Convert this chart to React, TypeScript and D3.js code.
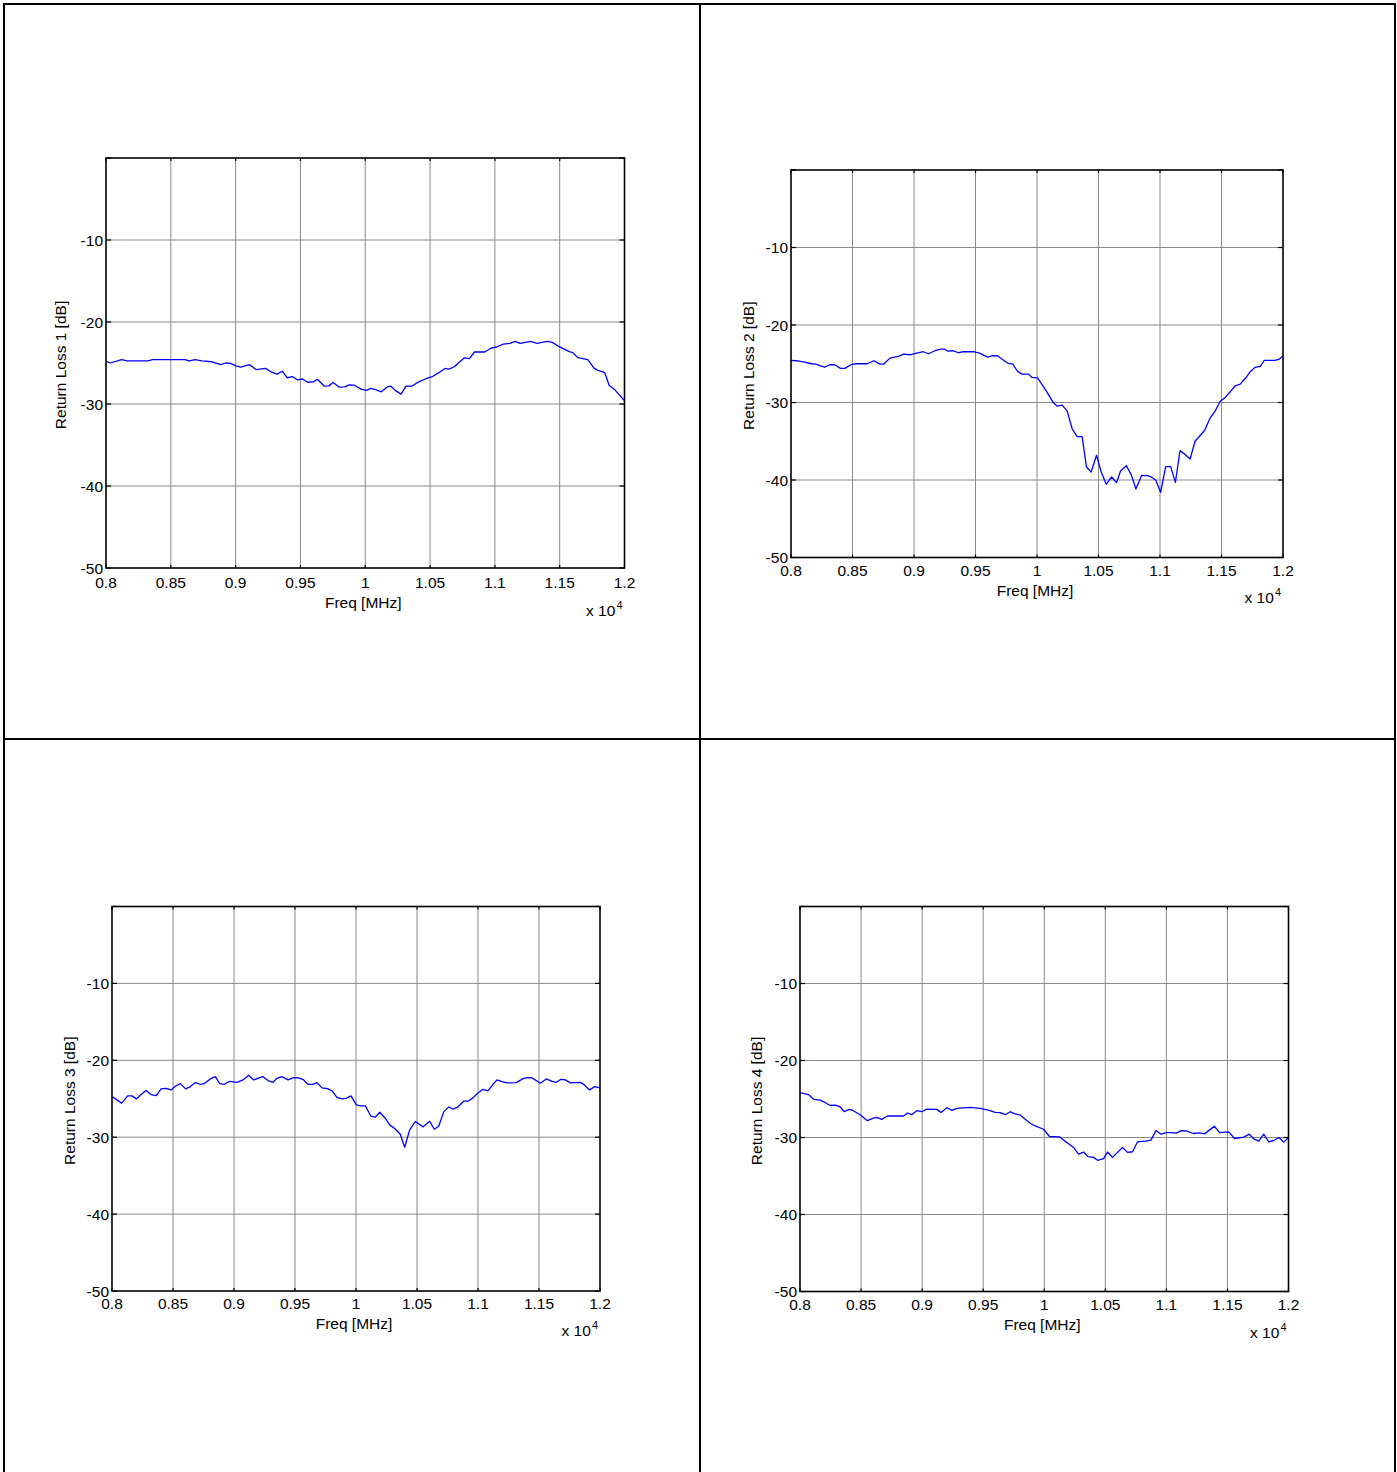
import React from "react";
import * as d3 from "d3";

// ---------- data ----------
const xTicks = [8000, 8500, 9000, 9500, 10000, 10500, 11000, 11500, 12000];
const xTickLabels = ["0.8", "0.85", "0.9", "0.95", "1", "1.05", "1.1", "1.15", "1.2"];
const yTicks = [0, -10, -20, -30, -40, -50];
const yTickLabels = ["", "-10", "-20", "-30", "-40", "-50"];
const yLabels = ["Return Loss 1 [dB]", "Return Loss 2 [dB]", "Return Loss 3 [dB]", "Return Loss 4 [dB]"];

const freq1 = [8000,8035,8119,8166,8322,8361,8610,8641,8688,8740,8818,8884,8923,8962,9001,9040,9106,9158,9231,9276,9320,9359,9398,9440,9479,9516,9555,9597,9631,9685,9719,9753,9800,9842,9876,9915,9968,10007,10046,10085,10124,10171,10198,10229,10276,10315,10359,10412,10464,10516,10568,10615,10647,10686,10725,10764,10803,10843,10921,10973,11012,11065,11117,11156,11195,11274,11326,11404,11443,11496,11574,11600,11639,11717,11764,11796,11848,11882,11926,12000];
const loss1 = [-24.8,-25.0,-24.6,-24.75,-24.75,-24.6,-24.6,-24.75,-24.6,-24.75,-24.85,-25.2,-25.0,-25.05,-25.35,-25.5,-25.2,-25.8,-25.65,-26.1,-26.35,-26.0,-26.8,-26.67,-27.07,-26.95,-27.35,-27.31,-26.99,-27.83,-27.79,-27.39,-27.95,-27.91,-27.67,-27.71,-28.19,-28.35,-28.1,-28.27,-28.51,-27.91,-27.83,-28.31,-28.8,-27.83,-27.83,-27.3,-26.95,-26.67,-26.18,-25.66,-25.74,-25.46,-24.9,-24.38,-24.46,-23.66,-23.66,-23.17,-23.05,-22.69,-22.61,-22.37,-22.61,-22.37,-22.61,-22.37,-22.49,-23.01,-23.61,-23.73,-24.34,-24.58,-25.62,-25.9,-26.18,-27.75,-28.27,-29.6];

const freq2 = [8000,8043,8111,8166,8201,8247,8274,8315,8356,8402,8438,8492,8533,8620,8674,8723,8755,8804,8872,8918,8967,9022,9076,9117,9171,9217,9245,9272,9315,9361,9402,9484,9538,9598,9633,9679,9723,9761,9804,9842,9878,9932,9959,10005,10081,10130,10163,10204,10245,10285,10326,10367,10402,10440,10484,10522,10563,10606,10647,10679,10726,10766,10804,10851,10897,10929,10965,11005,11046,11087,11125,11163,11204,11245,11285,11321,11364,11405,11448,11489,11527,11571,11611,11652,11698,11734,11772,11815,11848,11891,11935,11970,12000];
const loss2 = [-24.57,-24.61,-24.78,-25.0,-25.04,-25.3,-25.43,-25.13,-25.13,-25.6,-25.6,-25.09,-25.0,-25.0,-24.61,-25.04,-25.04,-24.27,-24.05,-23.75,-23.84,-23.62,-23.45,-23.71,-23.32,-23.1,-23.1,-23.36,-23.32,-23.58,-23.45,-23.45,-23.66,-24.14,-23.97,-23.97,-24.48,-24.91,-25.04,-25.99,-26.34,-26.34,-26.77,-26.81,-28.66,-29.96,-30.47,-30.34,-31.08,-33.36,-34.4,-34.4,-38.32,-38.97,-36.81,-38.97,-40.56,-39.61,-40.34,-38.84,-38.15,-39.31,-41.16,-39.4,-39.44,-39.61,-40.0,-41.59,-38.28,-38.28,-40.3,-36.21,-36.72,-37.28,-35.0,-34.35,-33.58,-32.07,-31.12,-29.83,-29.4,-28.62,-27.84,-27.63,-26.81,-26.03,-25.47,-25.34,-24.57,-24.57,-24.57,-24.4,-24.01];

const freq3 = [8000,8041,8079,8128,8164,8199,8238,8279,8320,8363,8402,8443,8484,8519,8560,8604,8642,8683,8724,8757,8806,8847,8883,8921,8964,9025,9074,9120,9161,9235,9279,9320,9352,9393,9443,9489,9530,9571,9604,9645,9680,9721,9768,9803,9844,9885,9918,9959,10003,10035,10076,10123,10158,10194,10240,10276,10317,10363,10399,10440,10486,10549,10604,10642,10678,10719,10760,10795,10833,10882,10918,10959,10997,11041,11082,11123,11156,11197,11238,11314,11369,11402,11443,11511,11560,11607,11642,11680,11716,11757,11839,11872,11915,11956,12000];
const loss3 = [-24.72,-25.15,-25.58,-24.63,-24.63,-25.02,-24.46,-23.94,-24.46,-24.59,-23.72,-23.64,-23.85,-23.38,-23.03,-23.72,-23.42,-22.9,-23.12,-23.03,-22.42,-22.12,-23.03,-23.12,-22.73,-22.86,-22.55,-21.95,-22.55,-22.12,-22.64,-22.86,-22.34,-22.12,-22.55,-22.25,-22.29,-22.55,-23.12,-23.12,-22.9,-23.59,-23.68,-23.98,-24.81,-25.02,-24.94,-24.63,-25.8,-25.93,-25.93,-27.27,-27.4,-26.75,-27.53,-28.4,-28.87,-29.61,-31.3,-29.05,-27.97,-28.66,-27.92,-28.96,-28.57,-26.71,-26.06,-26.36,-26.1,-25.32,-25.32,-24.89,-24.29,-23.77,-23.98,-23.12,-22.55,-22.77,-22.94,-22.9,-22.38,-22.25,-22.29,-22.99,-22.42,-22.73,-22.86,-22.47,-22.55,-22.94,-22.86,-23.2,-23.85,-23.42,-23.59];

const freq4 = [8000,8068,8115,8164,8205,8246,8292,8328,8361,8404,8437,8492,8552,8595,8628,8669,8716,8847,8880,8915,8956,8997,9038,9120,9155,9202,9243,9284,9393,9475,9543,9598,9639,9680,9721,9754,9803,9844,9885,9926,9994,10043,10125,10158,10199,10240,10281,10322,10357,10404,10437,10486,10518,10559,10600,10641,10682,10723,10764,10827,10874,10915,10956,10999,11040,11081,11122,11163,11223,11270,11313,11354,11393,11436,11510,11559,11633,11679,11715,11756,11797,11838,11879,11922,11961,12000];
const loss4 = [-24.16,-24.42,-25.06,-25.15,-25.45,-25.84,-25.79,-26.01,-26.65,-26.35,-26.52,-27.04,-27.81,-27.51,-27.38,-27.64,-27.21,-27.21,-26.82,-27.04,-26.52,-26.65,-26.31,-26.35,-26.74,-26.14,-26.48,-26.22,-26.09,-26.22,-26.44,-26.74,-26.78,-27.04,-26.65,-26.91,-27.08,-27.64,-28.15,-28.5,-28.93,-29.87,-29.91,-30.34,-30.82,-31.29,-32.15,-31.89,-32.49,-32.58,-32.96,-32.75,-31.89,-32.58,-31.93,-31.29,-31.93,-31.85,-30.56,-30.47,-30.34,-29.1,-29.57,-29.36,-29.36,-29.44,-29.1,-29.14,-29.48,-29.4,-29.53,-29.01,-28.54,-29.36,-29.27,-30.13,-29.96,-29.57,-30.17,-30.47,-29.57,-30.56,-30.39,-30.0,-30.6,-30.0];

const seriesFreq = [freq1, freq2, freq3, freq4];
const seriesLoss = [loss1, loss2, loss3, loss4];

// ---------- layout ----------
const layout = [
  { x0: 106, x1: 624.5, y0: 158, y1: 568, tickDy: 19.5, labDy: 39.5, expDy: 48, ylx: 45 },
  { x0: 791, x1: 1283, y0: 170, y1: 557.5, tickDy: 18.5, labDy: 38.5, expDy: 45, ylx: 42 },
  { x0: 112, x1: 600, y0: 906.5, y1: 1291, tickDy: 17.5, labDy: 37.5, expDy: 45, ylx: 42 },
  { x0: 800, x1: 1288.5, y0: 906.5, y1: 1291.5, tickDy: 18.5, labDy: 38.5, expDy: 46, ylx: 43 },
];

const FONT = "'Liberation Sans', Arial, Helvetica, sans-serif";
const FS = 15.5;

function Panel({ idx }: { idx: number }) {
  const L = layout[idx];
  const x = d3.scaleLinear().domain([8000, 12000]).range([L.x0, L.x1]);
  const y = d3.scaleLinear().domain([-50, 0]).range([L.y1, L.y0]);
  const f = seriesFreq[idx];
  const v = seriesLoss[idx];
  const n = Math.min(f.length, v.length);
  const pts: [number, number][] = d3.range(n).map((i) => [f[i], v[i]]);
  const line = d3
    .line<[number, number]>()
    .x((d) => x(d[0]))
    .y((d) => y(d[1]));
  const midX = (L.x0 + L.x1) / 2;
  const midY = (L.y0 + L.y1) / 2;
  const grid = "#8a8a8a";
  return (
    <g>
      <rect x={L.x0} y={L.y0} width={L.x1 - L.x0} height={L.y1 - L.y0} fill="#fff" />
      {xTicks.slice(1, -1).map((t) => (
        <line key={"gx" + t} x1={x(t)} x2={x(t)} y1={L.y0} y2={L.y1} stroke={grid} strokeWidth={1} />
      ))}
      {yTicks.slice(1, -1).map((t) => (
        <line key={"gy" + t} x1={L.x0} x2={L.x1} y1={y(t)} y2={y(t)} stroke={grid} strokeWidth={1} />
      ))}
      <path d={line(pts) || ""} fill="none" stroke="#0000ff" strokeWidth={1.3} strokeLinejoin="round" />
      <rect x={L.x0} y={L.y0} width={L.x1 - L.x0} height={L.y1 - L.y0} fill="none" stroke="#000" strokeWidth={1.6} />
      {xTicks.map((t) => (
        <g key={"tx" + t}>
          <line x1={x(t)} x2={x(t)} y1={L.y1} y2={L.y1 - 3} stroke="#000" strokeWidth={1.2} />
          <line x1={x(t)} x2={x(t)} y1={L.y0} y2={L.y0 + 3} stroke="#000" strokeWidth={1.2} />
        </g>
      ))}
      {yTicks.map((t) => (
        <g key={"ty" + t}>
          <line x1={L.x0} x2={L.x0 + 5} y1={y(t)} y2={y(t)} stroke="#000" strokeWidth={1.2} />
          <line x1={L.x1} x2={L.x1 - 5} y1={y(t)} y2={y(t)} stroke="#000" strokeWidth={1.2} />
        </g>
      ))}
      {xTicks.map((t, i) => (
        <text key={"lx" + t} x={x(t)} y={L.y1 + L.tickDy} textAnchor="middle" fontSize={FS} fontFamily={FONT} fill="#000">
          {xTickLabels[i]}
        </text>
      ))}
      {yTicks.map((t, i) => (
        <text key={"ly" + t} x={L.x0 - 3} y={y(t) + 5.5} textAnchor="end" fontSize={FS} fontFamily={FONT} fill="#000">
          {yTickLabels[i]}
        </text>
      ))}
      <text x={midX - 2} y={L.y1 + L.labDy} textAnchor="middle" fontSize={FS} fontFamily={FONT} fill="#000">
        Freq [MHz]
      </text>
      <text x={L.x1 - 2} y={L.y1 + L.expDy} textAnchor="end" fontSize={FS} fontFamily={FONT} fill="#000">
        x 10
        <tspan fontSize={11} dy={-7} dx={1}>4</tspan>
      </text>
      <text
        transform={`translate(${L.x0 - L.ylx},${midY + 2}) rotate(-90)`}
        textAnchor="middle"
        dy="0.35em"
        fontSize={FS}
        fontFamily={FONT}
        fill="#000"
      >
        {yLabels[idx]}
      </text>
    </g>
  );
}

export default function App() {
  const W = 1397;
  const H = 1472;
  return (
    <svg width={W} height={H} style={{ position: "absolute", left: 0, top: 0, background: "#fff" }}>
      <rect x={0} y={0} width={W} height={H} fill="#fff" />
      {[0, 1, 2, 3].map((i) => (
        <Panel key={i} idx={i} />
      ))}
      <line x1={4} x2={4} y1={3} y2={H} stroke="#000" strokeWidth={2} />
      <line x1={700} x2={700} y1={3} y2={H} stroke="#000" strokeWidth={2} />
      <line x1={1395} x2={1395} y1={3} y2={H} stroke="#000" strokeWidth={2} />
      <line x1={3} x2={1396} y1={4} y2={4} stroke="#000" strokeWidth={2} />
      <line x1={3} x2={1396} y1={739} y2={739} stroke="#000" strokeWidth={2} />
    </svg>
  );
}
